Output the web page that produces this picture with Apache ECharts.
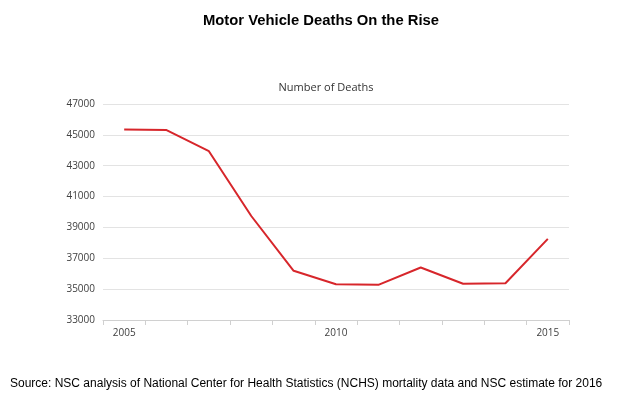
<!DOCTYPE html>
<html>
<head>
<meta charset="utf-8">
<script src="https://cdn.jsdelivr.net/npm/echarts@6/dist/echarts.min.js"></script>
<style>
html,body{margin:0;padding:0;background:#fff;}
#chart{width:620px;height:396px;}
</style>
</head>
<body>
<div id="chart"></div>
<script>
var years = ['2005','2006','2007','2008','2009','2010','2011','2012','2013','2014','2015'];
var deaths = [45340, 45310, 43940, 39740, 36190, 35320, 35280, 36400, 35350, 35380, 38260];
var titleText = 'Motor Vehicle Deaths On the Rise';
var subtitleText = 'Number of Deaths';
var sourceText = 'Source: NSC analysis of National Center for Health Statistics (NCHS) mortality data and NSC estimate for 2016';

var chart = echarts.init(document.getElementById('chart'), null, {renderer:'canvas'});
chart.setOption({
  animation: false,
  backgroundColor: '#fff',
  title: [
    {text: titleText, left: 316, top: 8, textAlign: 'center',
     textStyle: {fontFamily: 'Liberation Sans, Arial', fontWeight: 'bold', fontSize: 14.8, color: '#000'}},
    {text: subtitleText, left: 321, top: 77, textAlign: 'center',
     textStyle: {fontFamily: 'Open Sans, Lato, sans-serif', fontWeight: 'normal', fontSize: 11, color: '#333'}},
    {text: sourceText, left: 5, top: 373,
     textStyle: {fontFamily: 'Liberation Sans, Arial', fontWeight: 'normal', fontSize: 12, color: '#000'}}
  ],
  grid: {left: 103, right: 51, top: 104, bottom: 76},
  xAxis: {
    type: 'category',
    data: years,
    boundaryGap: true,
    axisLine: {lineStyle: {color: '#d0d0d0', width: 1}},
    axisTick: {show: true, interval: 0, length: 5, lineStyle: {color: '#d0d0d0'}},
    axisLabel: {interval: 4, color: '#404040', fontSize: 10, fontFamily: 'Open Sans, sans-serif', margin: 8}
  },
  yAxis: {
    type: 'value',
    min: 33000, max: 47000, interval: 2000,
    axisLine: {show: false},
    axisTick: {show: false},
    splitLine: {lineStyle: {color: '#e3e3e3', width: 1}},
    axisLabel: {color: '#404040', fontSize: 10, fontFamily: 'Open Sans, sans-serif', margin: 8,
      formatter: function (v) { return String(v); }}
  },
  series: [{
    type: 'line',
    data: deaths,
    symbol: 'none',
    lineStyle: {color: '#d7262b', width: 2},
    itemStyle: {color: '#d7262b'}
  }]
});
</script>
</body>
</html>
